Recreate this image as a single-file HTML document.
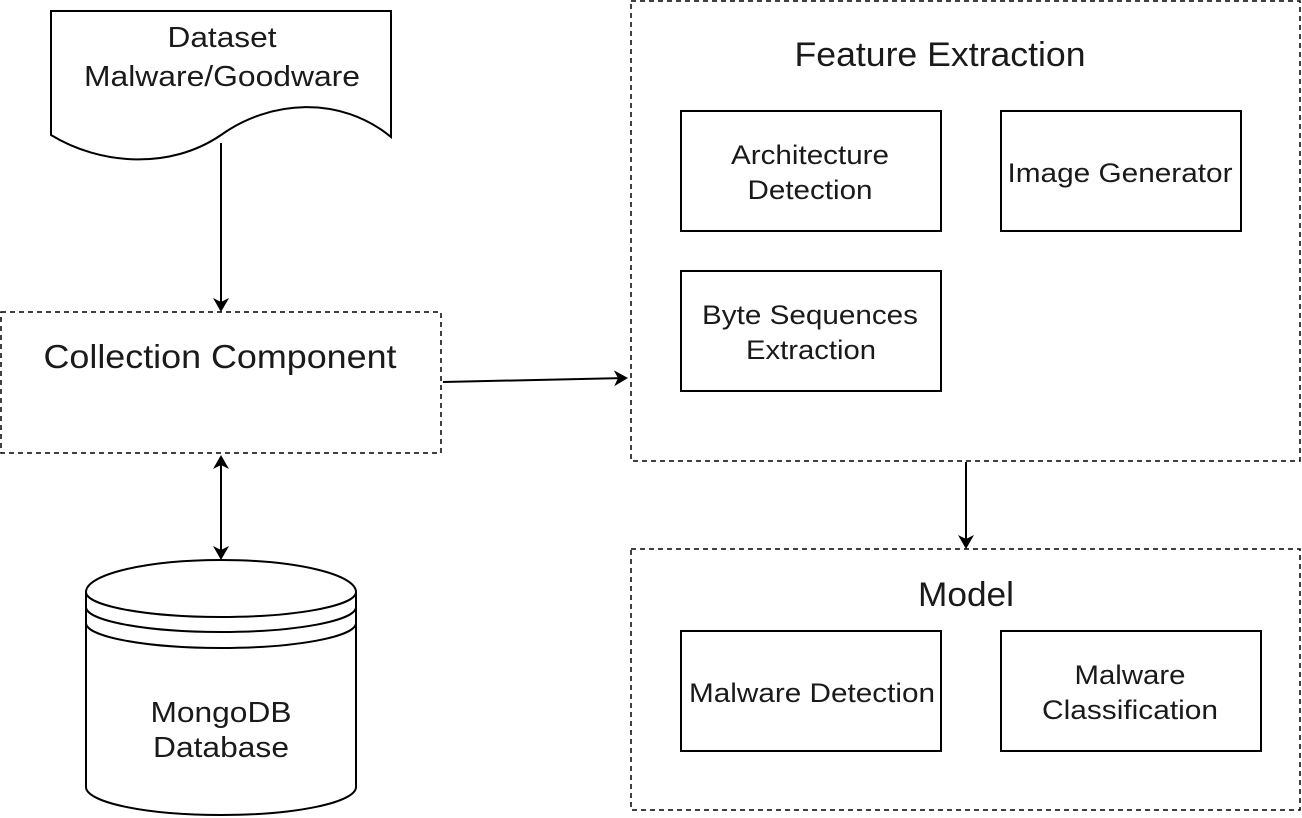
<!DOCTYPE html>
<html><head><meta charset="utf-8"><style>
html,body{margin:0;padding:0;background:#fff;}
svg{display:block;}
text{font-family:"Liberation Sans",sans-serif;fill:#1a1a1a;text-anchor:middle;}
</style></head><body>
<svg width="1302" height="818" viewBox="0 0 1302 818" xmlns="http://www.w3.org/2000/svg">
<defs>
<marker id="a" markerWidth="14" markerHeight="16" refX="12" refY="8" orient="auto" markerUnits="userSpaceOnUse">
<path d="M0,0 L14,8 L0,16 L4,8 Z" fill="#000"/></marker>
<marker id="s" markerWidth="14" markerHeight="16" refX="2" refY="8" orient="auto" markerUnits="userSpaceOnUse">
<path d="M14,0 L0,8 L14,16 L10,8 Z" fill="#000"/></marker>
</defs>
<g fill="none" stroke="#000" stroke-width="2">
<path d="M51,11 L391,11 L391,137 C340,95 270,100 221,135 C170,170 100,165 51,135 Z" fill="#fff"/>
<line x1="221" y1="143" x2="221" y2="310" marker-end="url(#a)"/>
<rect x="1" y="312" width="440" height="141" stroke-dasharray="5,4" stroke-width="1.5"/>
<line x1="443" y1="382" x2="626" y2="378" marker-end="url(#a)"/>
<rect x="631" y="1" width="669" height="460" stroke-dasharray="5,4" stroke-width="1.5"/>
<rect x="681" y="111" width="260" height="120"/>
<rect x="1001" y="111" width="240" height="120"/>
<rect x="681" y="271" width="260" height="120"/>
<line x1="966" y1="462" x2="966" y2="547" marker-end="url(#a)"/>
<rect x="631" y="549" width="669" height="261" stroke-dasharray="5,4" stroke-width="1.5"/>
<rect x="681" y="631" width="260" height="120"/>
<rect x="1001" y="631" width="260" height="120"/>
<line x1="221" y1="457" x2="221" y2="558" marker-start="url(#s)" marker-end="url(#a)"/>
<path d="M86,592 A135,32 0 0 1 356,592 L356,787 A135,28 0 0 1 86,787 Z" fill="#fff"/>
<path d="M86,592 A135,25 0 0 0 356,592"/>
<path d="M86,607 A135,25 0 0 0 356,607"/>
<path d="M86,623 A135,25 0 0 0 356,623"/>
</g>
<text x="222" y="47" font-size="29" textLength="109" lengthAdjust="spacingAndGlyphs">Dataset</text>
<text x="222" y="86" font-size="29" textLength="276" lengthAdjust="spacingAndGlyphs">Malware/Goodware</text>
<text x="220" y="368" font-size="33" textLength="353" lengthAdjust="spacingAndGlyphs">Collection Component</text>
<text x="940" y="66" font-size="34" textLength="291" lengthAdjust="spacingAndGlyphs">Feature Extraction</text>
<text x="810" y="164" font-size="27" textLength="158" lengthAdjust="spacingAndGlyphs">Architecture</text>
<text x="810" y="199" font-size="27" textLength="125" lengthAdjust="spacingAndGlyphs">Detection</text>
<text x="1120" y="182" font-size="27" textLength="225" lengthAdjust="spacingAndGlyphs">Image Generator</text>
<text x="810" y="324" font-size="27" textLength="216" lengthAdjust="spacingAndGlyphs">Byte Sequences</text>
<text x="811" y="359" font-size="27" textLength="130" lengthAdjust="spacingAndGlyphs">Extraction</text>
<text x="966" y="606" font-size="34" textLength="96" lengthAdjust="spacingAndGlyphs">Model</text>
<text x="812" y="702" font-size="27" textLength="246" lengthAdjust="spacingAndGlyphs">Malware Detection</text>
<text x="1130" y="684" font-size="27" textLength="111" lengthAdjust="spacingAndGlyphs">Malware</text>
<text x="1130" y="719" font-size="27" textLength="176" lengthAdjust="spacingAndGlyphs">Classification</text>
<text x="221" y="722" font-size="29" textLength="141" lengthAdjust="spacingAndGlyphs">MongoDB</text>
<text x="221" y="757" font-size="29" textLength="136" lengthAdjust="spacingAndGlyphs">Database</text>
</svg>
</body></html>
